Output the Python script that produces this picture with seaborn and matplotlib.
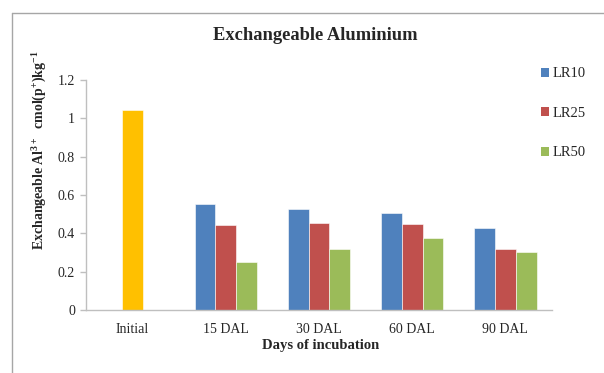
import matplotlib
matplotlib.use("Agg")
import matplotlib.pyplot as plt
from matplotlib.lines import Line2D
from matplotlib.patches import Patch
import seaborn as sns
import pandas as pd

categories = ["Initial", "15 DAL", "30 DAL", "60 DAL", "90 DAL"]
series = ["LR10", "LR25", "LR50"]
initial_value = 1.045
lr10 = [0.553, 0.525, 0.504, 0.428]
lr25 = [0.445, 0.455, 0.447, 0.320]
lr50 = [0.250, 0.320, 0.375, 0.304]
yticks = [0, 0.2, 0.4, 0.6, 0.8, 1, 1.2]
ytick_labels = ["0", "0.2", "0.4", "0.6", "0.8", "1", "1.2"]

colors = {"LR10": "#4F81BD", "LR25": "#C0504D", "LR50": "#9BBB59"}
initial_color = "#FFC000"

sns.set_style("white")
plt.rcParams["font.family"] = ["Liberation Serif", "DejaVu Serif"]
plt.rcParams["mathtext.fontset"] = "custom"
plt.rcParams["mathtext.rm"] = "Liberation Serif:bold"
plt.rcParams["mathtext.default"] = "rm"

rows = []
for s, vals in zip(series, [lr10, lr25, lr50]):
    for c, v in zip(categories[1:], vals):
        rows.append({"day": c, "series": s, "value": v})
df = pd.DataFrame(rows)
df_init = pd.DataFrame({"day": [categories[0]], "value": [initial_value]})

fig = plt.figure(figsize=(6.04, 3.73), dpi=100)
W, H = 604, 373
ax = fig.add_axes([86 / W, 1 - 310 / H, (552 - 86) / W, (310 - 80) / H])

sns.barplot(data=df, x="day", y="value", hue="series", order=categories,
            hue_order=series, palette=colors, width=0.67, ax=ax,
            legend=False, saturation=1, edgecolor="white", linewidth=0.4)
sns.barplot(data=df_init, x="day", y="value", order=categories,
            color=initial_color, width=0.223, ax=ax, saturation=1,
            edgecolor="white", linewidth=0.4)

ax.set_xlim(-0.5, 4.5)
ax.set_ylim(0, 1.2)
ax.set_yticks(yticks)
ax.set_yticklabels(ytick_labels)
ax.set_xlabel("")
ax.set_ylabel("")
for side in ["top", "right"]:
    ax.spines[side].set_visible(False)
for side in ["left", "bottom"]:
    ax.spines[side].set_color("#BFBFBF")
    ax.spines[side].set_linewidth(1.0)
ax.tick_params(axis="y", which="both", left=True, length=4, width=1.0,
               color="#BFBFBF", labelsize=10, pad=4, direction="out")
ax.tick_params(axis="x", bottom=False, labelsize=10, pad=6)
for lab in ax.get_xticklabels() + ax.get_yticklabels():
    lab.set_color("#262626")

fig.text(315 / W, 1 - 35 / H, "Exchangeable Aluminium", ha="center",
         va="center", fontsize=13.3, fontweight="bold")
fig.text(321 / W, 1 - 346 / H, "Days of incubation", ha="center",
         va="center", fontsize=10.5, fontweight="bold")
fig.text(40 / W, 1 - 150 / H,
         r"Exchangeable Al$^{3+}$  cmol(p$^{+}$)kg$^{-1}$",
         ha="center", va="center", rotation=90, fontsize=10,
         fontweight="bold")

handles = [Patch(facecolor=colors[s], edgecolor="none") for s in series]
fig.legend(handles, series, loc="upper left",
           bbox_to_anchor=(534 / W, 1 - 60 / H), frameon=False,
           fontsize=10.5, handlelength=0.55, handleheight=0.55,
           handletextpad=0.25, labelspacing=1.82, borderpad=0)

frame_color = "#A6A6A6"
fig.add_artist(Line2D([12 / W, 1], [1 - 13 / H, 1 - 13 / H],
                      transform=fig.transFigure, color=frame_color, lw=1))
fig.add_artist(Line2D([12 / W, 12 / W], [0, 1 - 13 / H],
                      transform=fig.transFigure, color=frame_color, lw=1))

fig.savefig("out.png", dpi=100)
